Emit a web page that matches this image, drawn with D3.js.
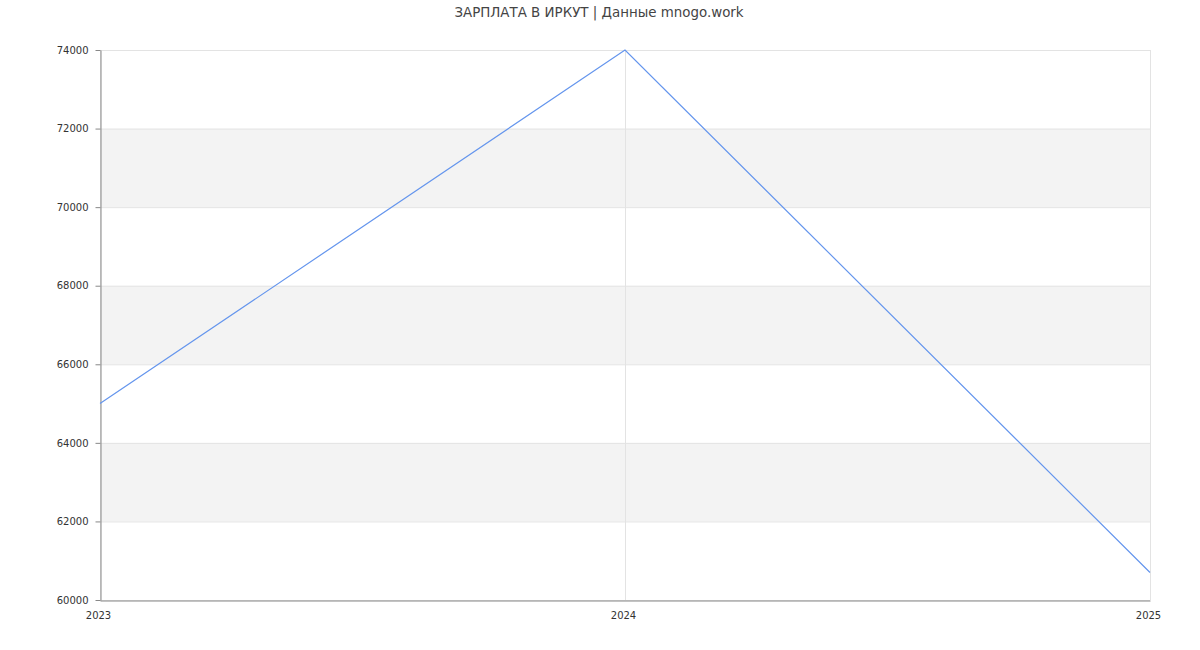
<!DOCTYPE html>
<html><head><meta charset="utf-8">
<script src="https://cdn.jsdelivr.net/npm/d3@7"></script>
<style>body{margin:0;background:#fff;}svg{display:block;font-family:"DejaVu Sans",sans-serif;}</style>
</head><body>
<svg id="c" width="1200" height="650"></svg>
<script>
const years = ["2023","2024","2025"];
const salary = [65000, 74000, 60700];
const yTicks = [60000,62000,64000,66000,68000,70000,72000,74000];
const title = "ЗАРПЛАТА В ИРКУТ | Данные mnogo.work";

const svg = d3.select("#c");
const m = {l:100, r:50, t:50, b:50};
const W = 1200, H = 650;
const x = d3.scalePoint().domain(years).range([m.l, W-m.r]);
const y = d3.scaleLinear().domain([60000,74000]).range([H-m.b, m.t]);

// bands
const bands = [];
for (let i=0;i<yTicks.length-1;i++) bands.push([yTicks[i], yTicks[i+1], i]);
svg.append("g").selectAll("rect").data(bands).join("rect")
  .attr("x", m.l).attr("width", W-m.r-m.l)
  .attr("y", d=>y(d[1])).attr("height", d=>y(d[0])-y(d[1]))
  .attr("fill", d=> d[2]%2===1 ? "#f3f3f3" : "#ffffff");

// horizontal grid
svg.append("g").selectAll("line").data(yTicks).join("line")
  .attr("x1", m.l).attr("x2", W-m.r)
  .attr("y1", d=>y(d)+0.5).attr("y2", d=>y(d)+0.5)
  .attr("stroke", "#e3e3e3");
// vertical grid
svg.append("g").selectAll("line").data(years).join("line")
  .attr("x1", d=>x(d)+0.5).attr("x2", d=>x(d)+0.5)
  .attr("y1", m.t).attr("y2", H-m.b)
  .attr("stroke", "#e3e3e3");

// y axis
const ya = svg.append("g").attr("transform", `translate(${m.l+0.5},0)`)
  .call(d3.axisLeft(y).tickValues(yTicks).tickFormat(d3.format("d")).tickSize(5).tickSizeOuter(0));
ya.select(".domain").attr("stroke", "#888");
ya.selectAll(".tick line").attr("stroke", "#888");
ya.selectAll(".tick text").attr("fill", "#333").attr("font-size", 10).attr("font-family", "DejaVu Sans").attr("x", -12);

// x axis
const xa = svg.append("g").attr("transform", `translate(0,${H-m.b+0.5})`)
  .call(d3.axisBottom(x).tickSize(0).tickSizeOuter(0));
xa.select(".domain").attr("stroke", "#888");
xa.selectAll(".tick text").attr("fill", "#333").attr("font-size", 10).attr("font-family", "DejaVu Sans")
  .attr("x", -2).attr("y", 0).attr("dy", 0).attr("transform", "translate(0,18)");

// line
const line = d3.line().x((d,i)=>x(years[i])).y(d=>y(d));
svg.append("path").datum(salary).attr("d", line)
  .attr("fill", "none").attr("stroke", "#6495ed").attr("stroke-width", 1.2);

svg.append("text").attr("x", 599).attr("y", 17).attr("text-anchor", "middle")
  .attr("font-size", 13.4).attr("fill", "#444").text(title);
</script>
</body></html>
